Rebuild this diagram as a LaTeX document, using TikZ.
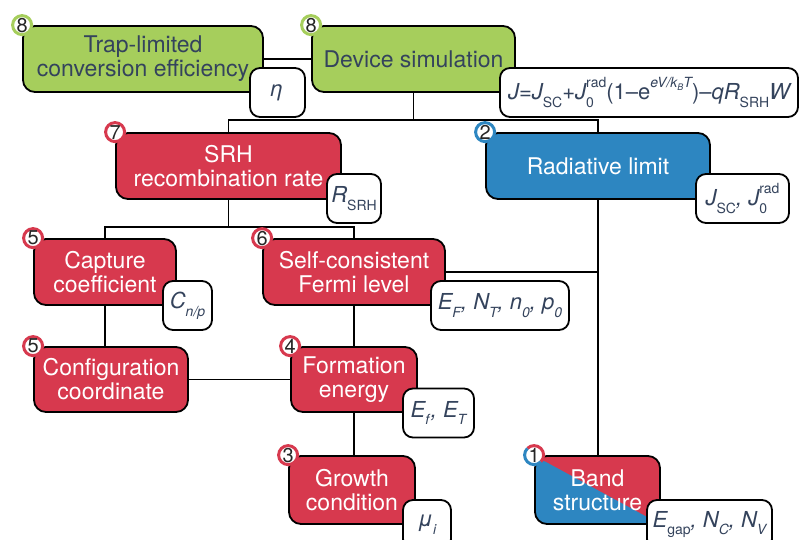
\documentclass[tikz,border=0pt]{standalone}
\usepackage{fontspec}
\setmainfont{TeX Gyre Heros}
\usepackage{xcolor}
\usepackage{tikz}

\definecolor{leaf}{HTML}{A6CE5C}
\definecolor{brick}{HTML}{D7394E}
\definecolor{sea}{HTML}{2D86C1}
\definecolor{ink}{HTML}{34435C}

\newcommand\dnidx[1]{\raisebox{-0.35em}{\fontsize{14}{14}\selectfont #1}}
\newcommand\upidx[1]{\raisebox{0.55em}{\fontsize{14}{14}\selectfont #1}}

\begin{document}
\begin{tikzpicture}[x=1pt, y=-1pt, line width=1.8pt,
    every text node part/.style={align=center},
    stage/.style={draw=black, rounded corners=12pt, font=\fontsize{23}{24}\selectfont, text=white, inner sep=0pt},
    tag/.style={draw=black, fill=white, rounded corners=10pt, font=\fontsize{22}{24}\selectfont\itshape, text=ink, inner sep=0pt, minimum height=49pt},
    badge/.style={circle, draw=#1, line width=3pt, fill=white, inner sep=0pt, minimum size=19pt, font=\fontsize{20}{20}\selectfont, text=black!85}]
    \useasboundingbox (0,0) rectangle (799,539);

    \node[stage, fill=leaf, text=ink, minimum width=240pt, minimum height=66pt] (trap) at (143,59) {Trap-limited\\conversion efficiency};
    \node[stage, fill=leaf, text=ink, minimum width=203pt, minimum height=66pt] (dev) at (413.5,59) {Device simulation};
    \node[stage, fill=brick, minimum width=225pt, minimum height=66pt] (srh) at (228.5,166) {SRH\\recombination rate};
    \node[stage, fill=sea, minimum width=224pt, minimum height=66pt] (rad) at (598,166) {Radiative limit};
    \node[stage, fill=brick, minimum width=142pt, minimum height=66pt] (cap) at (105,272) {Capture\\coefficient};
    \node[stage, fill=brick, minimum width=182pt, minimum height=66pt] (self) at (354,272) {Self-consistent\\Fermi level};
    \node[stage, fill=brick, minimum width=154pt, minimum height=65pt] (conf) at (111,379.5) {Configuration\\coordinate};
    \node[stage, fill=brick, minimum width=126pt, minimum height=65pt] (form) at (354,379.5) {Formation\\energy};
    \node[stage, fill=brick, minimum width=126pt, minimum height=68pt] (grow) at (352,490) {Growth\\condition};
    \node[stage, fill=brick, minimum width=125pt, minimum height=68pt,
        path picture={\fill[sea] (path picture bounding box.north west) -- (path picture bounding box.south east) -- (path picture bounding box.south west) -- cycle;}] (band) at (597.5,490) {Band\\structure};

    \coordinate (fork) at (413.5,120);
    \coordinate (split) at (228.5,227);
    \draw (trap.east) -- (dev.west);
    \draw (dev.south) -- (fork);
    \draw (srh.north) |- (fork) -| (rad.north);
    \draw (srh.south) -- (split);
    \draw (cap.north) |- (split) -| (self.north);
    \draw (cap.south) -- (cap.south |- conf.north);
    \draw (conf.east) -- (form.west);
    \draw (self.south) -- (form.north);
    \draw (form.south) -- (form.south |- grow.north);
    \draw (self.east) -- (self.east -| rad.south);
    \draw (rad.south) -- (rad.south |- band.north);

    \node[tag, minimum width=55pt] (eta) at (277.5,92.5) {η};
    \node[tag, minimum width=298pt] (jform) at (649,92.5) {J{\upshape=}J\dnidx{\upshape SC}{\upshape+}J\rlap{\dnidx{\upshape 0}}\upidx{\upshape rad}{\upshape(1\textendash e}\upidx{eV/k\raisebox{-0.2em}{\fontsize{9}{9}\selectfont B}T}{\upshape)\textendash}qR\dnidx{\upshape SRH}W};
    \node[tag, minimum width=54pt] (rtag) at (354,198.5) {R\dnidx{\upshape SRH}};
    \node[tag, minimum width=93pt] (jtag) at (742.5,198.5) {J\dnidx{\upshape SC}, J\rlap{\dnidx{\upshape 0}}\upidx{\upshape rad}};
    \node[tag, minimum width=49pt] (ctag) at (187.5,305.5) {C\dnidx{n/p}};
    \node[tag, minimum width=138pt] (ftag) at (500,305.5) {E\dnidx{F}, N\dnidx{T}, n\dnidx{0}, p\dnidx{0}};
    \node[tag, minimum width=71pt] (etag) at (438.5,413) {E\dnidx{f\kern1.5pt}, E\dnidx{T}};
    \node[tag, minimum width=48pt] (mtag) at (427,524.5) {μ\dnidx{i}};
    \node[tag, minimum width=125pt] (gtag) at (709.5,524.5) {E\dnidx{\upshape gap}, N\dnidx{C}, N\dnidx{V}};

    \node[badge=leaf] (n8a) at (trap.north west) {8};
    \node[badge=leaf] (n8b) at (dev.north west) {8};
    \node[badge=brick] (n7) at (srh.north west) {7};
    \node[badge=sea] (n2) at (rad.north west) {2};
    \node[badge=brick] (n5a) at (cap.north west) {5};
    \node[badge=brick] (n6) at (self.north west) {6};
    \node[badge=brick] (n5b) at (conf.north west) {5};
    \node[badge=brick] (n4) at (form.north west) {4};
    \node[badge=brick] (n3) at (grow.north west) {3};
    \node[badge=brick, draw=none] (n1) at (band.north west) {1};
    \draw[brick, line width=3pt] (n1.center) ++(-45:9.5pt) arc[start angle=-45, end angle=135, radius=9.5pt];
    \draw[sea, line width=3pt] (n1.center) ++(135:9.5pt) arc[start angle=135, end angle=315, radius=9.5pt];
\end{tikzpicture}
\end{document}
